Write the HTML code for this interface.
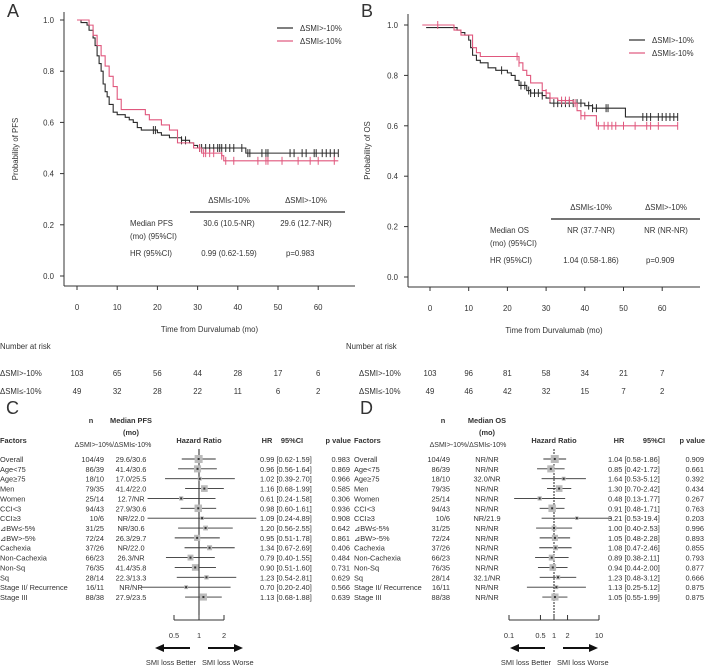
<!DOCTYPE html>
<html><head><meta charset="utf-8">
<style>
body{margin:0;background:#fff;}
svg{display:block;font-family:"Liberation Sans",sans-serif;}
text{fill:#333;}
</style></head>
<body>
<svg id="fig" width="709" height="669" viewBox="0 0 709 669" xmlns="http://www.w3.org/2000/svg">
<g id="gA"></g>
<g id="gB"></g>
<g id="gC"></g>
<g id="gD"></g>
</svg>
<script>
// ---- KM data ----
const pfsBlackT=[0,1,2.5,3,4,4.5,5,5.5,6,6.5,7,7.5,8,9,10,12,13,14,15,16,20,21,23,26,28,29,30,42,65];
const pfsBlackS=[1,0.99,0.98,0.96,0.93,0.9,0.86,0.83,0.8,0.75,0.72,0.7,0.67,0.64,0.63,0.62,0.61,0.6,0.58,0.57,0.56,0.55,0.54,0.53,0.52,0.51,0.5,0.48,0.48];
const pfsBlackCens=[19,19.5,25,26,27,30.5,31,32,33,34,35,35.5,36,37,38,39,41,42.5,43,46,47,47.5,53,54,56,57,59,59.5,61,62,63,64,65];
const pfsRedT=[0,2.5,3,4,5,6,7,8,9,10,11,16,17,18,21,23,25,28,29,31,36,36.5,65];
const pfsRedS=[1,1,0.98,0.94,0.9,0.86,0.82,0.78,0.74,0.69,0.65,0.65,0.63,0.61,0.59,0.57,0.52,0.52,0.5,0.48,0.47,0.45,0.45];
const pfsRedCens=[30.5,31.5,32,33,34,36,37,39,45,47,47.5,51,55,58,60,64];
const osBlackT=[-1,7,8,9,10,10.5,11,12,13,15,17,20,21,22,23,25,26,29,30,31,40,42,50.5,64];
const osBlackS=[0.99,0.98,0.97,0.96,0.94,0.91,0.88,0.86,0.85,0.83,0.82,0.81,0.8,0.78,0.76,0.74,0.73,0.72,0.71,0.69,0.68,0.67,0.635,0.635];
const osBlackCens=[18.5,23.5,24.5,25.5,26,27,28,29,32,33,34,35,36,37,38,39,41,42,43,45.5,46,55,56,57,59,60,61,62,63,64];
const osRedT=[-2,6,6.2,8,11,12,13,22,23,24,25,26,29,30,31,33,37,38,39,42.5,43,64];
const osRedS=[1,1,0.98,0.96,0.91,0.89,0.875,0.875,0.85,0.82,0.8,0.77,0.74,0.73,0.71,0.7,0.69,0.66,0.64,0.64,0.6,0.6];
const osRedCens=[2,22.5,23,30,31,34,35,36,37.5,39,40,43.5,45,46,47,48,50,53,56,57,59,64];
const xTicks=[0,10,20,30,40,50,60];
const yTicks=[0,0.2,0.4,0.6,0.8,1.0];
const riskA1=[103,65,56,44,28,17,6], riskA2=[49,32,28,22,11,6,2];
const riskB1=[103,96,81,58,34,21,7], riskB2=[49,46,42,32,15,7,2];
// ---- Forest data ----
const factors=["Overall","Age<75","Age≥75","Men","Women","CCI<3","CCI≥3","⊿BW≤-5%","⊿BW>-5%","Cachexia","Non-Cachexia","Non-Sq","Sq","Stage II/ Recurrence","Stage III"];
const nCounts=["104/49","86/39","18/10","79/35","25/14","94/43","10/6","31/25","72/24","37/26","66/23","76/35","28/14","16/11","88/38"];
const nTot=[153,125,28,114,39,137,16,56,96,63,89,111,42,27,126];
const medPFS=["29.6/30.6","41.4/30.6","17.0/25.5","41.4/22.0","12.7/NR","27.9/30.6","NR/22.0","NR/30.6","26.3/29.7","NR/22.0","26.3/NR","41.4/35.8","22.3/13.3","NR/NR","27.9/23.5"];
const hrC=[0.99,0.96,1.02,1.16,0.61,0.98,1.09,1.20,0.95,1.34,0.79,0.90,1.23,0.70,1.13];
const loC=[0.62,0.56,0.39,0.68,0.24,0.60,0.24,0.56,0.51,0.67,0.40,0.51,0.54,0.20,0.68];
const hiC=[1.59,1.64,2.70,1.99,1.58,1.61,4.89,2.55,1.78,2.69,1.55,1.60,2.81,2.40,1.88];
const pC=["0.983","0.869","0.966","0.585","0.306","0.936","0.908","0.642","0.861","0.406","0.484","0.731","0.629","0.566","0.639"];
const medOS=["NR/NR","NR/NR","32.0/NR","NR/NR","NR/NR","NR/NR","NR/21.9","NR/NR","NR/NR","NR/NR","NR/NR","NR/NR","32.1/NR","NR/NR","NR/NR"];
const hrD=[1.04,0.85,1.64,1.30,0.48,0.91,3.21,1.00,1.05,1.08,0.89,0.94,1.23,1.13,1.05];
const loD=[0.58,0.42,0.53,0.70,0.13,0.48,0.53,0.40,0.48,0.47,0.38,0.44,0.48,0.25,0.55];
const hiD=[1.86,1.72,5.12,2.42,1.77,1.71,19.4,2.53,2.28,2.46,2.11,2.00,3.12,5.12,1.99];
const pD=["0.909","0.661","0.392","0.434","0.267","0.763","0.203","0.996","0.893","0.855","0.793","0.877","0.666","0.875","0.875"];

const NS="http://www.w3.org/2000/svg";
function mk(parent,tag,attrs,txt){const e=document.createElementNS(NS,tag);for(const k in attrs)e.setAttribute(k,attrs[k]);if(txt!==undefined)e.textContent=txt;parent.appendChild(e);return e;}
const BLK="#2a2a2a", RED="#e0577d";
const FS=7.8, FF=7.4;

function km(g,cfg){
  const X=t=>cfg.x0+t*cfg.kx, Y=s=>cfg.y0-s*cfg.ky;
  let e;
  e=mk(g,'text',{x:cfg.lx,y:cfg.ly,'font-size':18},cfg.letter);
  
  
  e=mk(g,'line',{x1:cfg.ax,y1:cfg.atop,x2:cfg.ax,y2:cfg.axy,stroke:'#333','stroke-width':1});
  
  
  e=mk(g,'line',{x1:cfg.ax,y1:cfg.axy,x2:cfg.aright,y2:cfg.axy,stroke:'#333','stroke-width':1});
  
  
  yTicks.forEach(v=>{
    mk(g,'line',{x1:cfg.ax-4,y1:Y(v),x2:cfg.ax,y2:Y(v),stroke:'#333'});
    e=mk(g,'text',{x:cfg.ax-10,y:Y(v)+3,'font-size':FS,'text-anchor':'end'},v.toFixed(1));
    
    
  });
  xTicks.forEach((v,i)=>{
    mk(g,'line',{x1:X(v),y1:cfg.axy,x2:X(v),y2:cfg.axy+4,stroke:'#333'});
    e=mk(g,'text',{x:X(v),y:cfg.axy+24,'font-size':FS,'text-anchor':'middle'},v);
    
    
    e=mk(g,'text',{x:X(v),y:376,'font-size':FS,'text-anchor':'middle'},cfg.r1[i]);
    
    
    e=mk(g,'text',{x:X(v),y:394,'font-size':FS,'text-anchor':'middle'},cfg.r2[i]);
    
    
  });
  e=mk(g,'text',{x:(cfg.ax+cfg.aright)/2,y:cfg.axy+46,'font-size':FS,'text-anchor':'middle'},'Time from Durvalumab (mo)');
  
  
  e=mk(g,'text',{x:0,y:0,'font-size':FS,'text-anchor':'middle',transform:`translate(${cfg.ylx},${(cfg.atop+cfg.axy)/2}) rotate(-90)`},cfg.ylab);
  
  
  e=mk(g,'text',{x:cfg.rlx,y:349,'font-size':FS},'Number at risk');
  
  
  e=mk(g,'text',{x:cfg.rlx2,y:376,'font-size':FS},'ΔSMI>-10%');
  
  
  e=mk(g,'text',{x:cfg.rlx2,y:394,'font-size':FS},'ΔSMI≤-10%');
  
  
  const series=[[cfg.bT,cfg.bS,cfg.bC,BLK,'curve-smi-gt-10'],[cfg.rT,cfg.rS,cfg.rC,RED,'curve-smi-le-10']];
  series.forEach(([T,S,C,col,nm])=>{
    let d=`M${X(T[0])},${Y(S[0])}`;
    for(let i=1;i<T.length;i++){d+=`H${X(T[i])}V${Y(S[i])}`;}
    e=mk(g,'path',{d:d,fill:'none',stroke:col,'stroke-width':1.1});
    
    
    C.forEach(c=>{
      let s=S[0];for(let i=0;i<T.length;i++){if(T[i]<=c)s=S[i];}
      e=mk(g,'line',{x1:X(c),y1:Y(s)-4,x2:X(c),y2:Y(s)+4,stroke:col,'stroke-width':1});
      
      
    });
  });
  [[BLK,'ΔSMI>-10%',cfg.legY],[RED,'ΔSMI≤-10%',cfg.legY+13]].forEach(([c,t,y])=>{
    e=mk(g,'line',{x1:cfg.legX,y1:y,x2:cfg.legX+16,y2:y,stroke:c,'stroke-width':1.2});
    
    
    e=mk(g,'text',{x:cfg.legX+23,y:y+3,'font-size':FS},t);
    
    
  });
  const tb=cfg.tab;
  e=mk(g,'text',{x:tb.c1,y:tb.hy,'font-size':FS,'text-anchor':'middle'},'ΔSMI≤-10%');
  
  
  e=mk(g,'text',{x:tb.c2,y:tb.hy,'font-size':FS,'text-anchor':'middle'},'ΔSMI>-10%');
  
  
  mk(g,'line',{x1:tb.l1,y1:tb.hy+9,x2:tb.l2,y2:tb.hy+9,stroke:'#222','stroke-width':1.3});
  e=mk(g,'text',{x:tb.lx,y:tb.hy+23,'font-size':FS},tb.med);
  
  
  mk(g,'text',{x:tb.lx,y:tb.hy+36,'font-size':FS},'(mo) (95%CI)');
  e=mk(g,'text',{x:tb.c1,y:tb.hy+23,'font-size':FS,'text-anchor':'middle'},tb.v1);
  
  
  e=mk(g,'text',{x:tb.c2,y:tb.hy+23,'font-size':FS,'text-anchor':'middle'},tb.v2);
  
  
  mk(g,'text',{x:tb.lx,y:tb.hy+53,'font-size':FS},'HR (95%CI)');
  e=mk(g,'text',{x:tb.c1,y:tb.hy+53,'font-size':FS,'text-anchor':'middle'},tb.hr);
  
  
  e=mk(g,'text',{x:tb.c2-20,y:tb.hy+53,'font-size':FS},tb.p);
  
  
}

km(document.getElementById('gA'),{letter:'A',lx:7,ly:17,x0:77,kx:4.02,y0:276,ky:256,ax:64,atop:12,axy:286,aright:355,ylx:18,ylab:'Probability of PFS',
  r1:riskA1,r2:riskA2,rlx:0,rlx2:0,bT:pfsBlackT,bS:pfsBlackS,bC:pfsBlackCens,rT:pfsRedT,rS:pfsRedS,rC:pfsRedCens,legX:277,legY:28,
  tab:{c1:229,c2:306,hy:203,l1:190,l2:345,lx:130,med:'Median PFS',v1:'30.6 (10.5-NR)',v2:'29.6 (12.7-NR)',hr:'0.99 (0.62-1.59)',p:'p=0.983'}});
km(document.getElementById('gB'),{letter:'B',lx:361,ly:17,x0:430,kx:3.87,y0:277,ky:252,ax:408,atop:14,axy:287,aright:700,ylx:370,ylab:'Probability of OS',
  r1:riskB1,r2:riskB2,rlx:346,rlx2:359,bT:osBlackT,bS:osBlackS,bC:osBlackCens,rT:osRedT,rS:osRedS,rC:osRedCens,legX:629,legY:40,
  tab:{c1:591,c2:666,hy:210,l1:551,l2:700,lx:490,med:'Median OS',v1:'NR (37.7-NR)',v2:'NR (NR-NR)',hr:'1.04 (0.58-1.86)',p:'p=0.909'}});

function forest(g,cfg){
  let e;
  const X=v=>cfg.x1+Math.log(v)/Math.log(cfg.base)*cfg.k;
  const rowY=i=>459+i*9.86;
  e=mk(g,'text',{x:cfg.ox+6,y:414,'font-size':18},cfg.letter);
  
  
  const b={'font-size':FF,'font-weight':'bold'};
  e=mk(g,'text',Object.assign({x:cfg.ox,y:443},b),'Factors');
  
  
  mk(g,'text',Object.assign({x:cfg.nX,y:423,'text-anchor':'middle'},b),'n');
  mk(g,'text',Object.assign({x:cfg.medX,y:423,'text-anchor':'middle'},b),cfg.medTitle);
  mk(g,'text',Object.assign({x:cfg.medX,y:435,'text-anchor':'middle'},b),'(mo)');
  mk(g,'text',{x:cfg.subX,y:447,'font-size':7,'text-anchor':'middle'},'ΔSMI>-10%/ΔSMI≤-10%');
  mk(g,'text',Object.assign({x:cfg.x1,y:443,'text-anchor':'middle'},b),'Hazard Ratio');
  mk(g,'text',Object.assign({x:cfg.hrHX,y:443,'text-anchor':'middle'},b),'HR');
  mk(g,'text',Object.assign({x:cfg.ciHX,y:443,'text-anchor':'middle'},b),'95%CI');
  mk(g,'text',Object.assign({x:cfg.pX+1,y:443,'text-anchor':'end'},b),'p value');
  e=mk(g,'line',{x1:cfg.x1,y1:449,x2:cfg.x1,y2:620,stroke:'#222','stroke-width':1,'stroke-dasharray':cfg.dash});
  
  
  factors.forEach((f,i)=>{
    const y=rowY(i);
    mk(g,'text',{x:cfg.ox,y:y+3,'font-size':FF},f);
    mk(g,'text',{x:cfg.nR,y:y+3,'font-size':FF,'text-anchor':'end'},nCounts[i]);
    mk(g,'text',{x:cfg.medX,y:y+3,'font-size':FF,'text-anchor':'middle'},cfg.med[i]);
    const hr=cfg.hr[i];
    mk(g,'text',{x:cfg.hrX,y:y+3,'font-size':FF},hr.toFixed(2)+' ['+cfg.lo[i].toFixed(2)+'-'+(cfg.hi[i]>=10?cfg.hi[i].toFixed(1):cfg.hi[i].toFixed(2))+']');
    mk(g,'text',{x:cfg.pX,y:y+3,'font-size':FF,'text-anchor':'end'},cfg.p[i]);
    e=mk(g,'line',{x1:X(cfg.lo[i]),y1:y,x2:X(cfg.hi[i]),y2:y,stroke:'#333','stroke-width':0.9});
    
    
    const s=3+nTot[i]/153*5;
    e=mk(g,'rect',{x:X(hr)-s/2,y:y-s/2,width:s,height:s,fill:'#bbb'});
    
    
    mk(g,'rect',{x:X(hr)-1,y:y-1,width:2,height:2,fill:'#333'});
  });
  mk(g,'line',{x1:X(cfg.ticks[0]),y1:620,x2:X(cfg.ticks[cfg.ticks.length-1]),y2:620,stroke:'#333'});
  cfg.ticks.forEach(t=>{
    mk(g,'line',{x1:X(t),y1:615,x2:X(t),y2:620,stroke:'#333'});
    e=mk(g,'text',{x:X(t),y:638,'font-size':FF,'text-anchor':'middle'},t);
    
    
  });
  mk(g,'line',{x1:cfg.x1-9,y1:648,x2:cfg.x1-36,y2:648,stroke:'#111','stroke-width':2});
  mk(g,'polygon',{points:`${cfg.x1-44},648 ${cfg.x1-35},644 ${cfg.x1-35},652`,fill:'#111'});
  mk(g,'line',{x1:cfg.x1+9,y1:648,x2:cfg.x1+36,y2:648,stroke:'#111','stroke-width':2});
  mk(g,'polygon',{points:`${cfg.x1+44},648 ${cfg.x1+35},644 ${cfg.x1+35},652`,fill:'#111'});
  e=mk(g,'text',{x:cfg.x1-3,y:665,'font-size':FF,'text-anchor':'end'},'SMI loss Better');
  
  
  e=mk(g,'text',{x:cfg.x1+3,y:665,'font-size':FF},'SMI loss Worse');
  
  
}
forest(document.getElementById('gC'),{letter:'C',ox:0,x1:199,base:2,k:25,dash:'none',ticks:[0.5,1,2],nX:91,nR:104,medX:131,subX:113,medTitle:'Median PFS',
  med:medPFS,hr:hrC,lo:loC,hi:hiC,p:pC,hrX:260,hrHX:267,ciHX:292,pX:350});
forest(document.getElementById('gD'),{letter:'D',ox:354,x1:554,base:10,k:45,dash:'2,1',ticks:[0.1,0.5,1,2,10],nX:443,nR:450,medX:487,subX:468,medTitle:'Median OS',
  med:medOS,hr:hrD,lo:loD,hi:hiD,p:pD,hrX:608,hrHX:619,ciHX:654,pX:704});
</script>
</body></html>
